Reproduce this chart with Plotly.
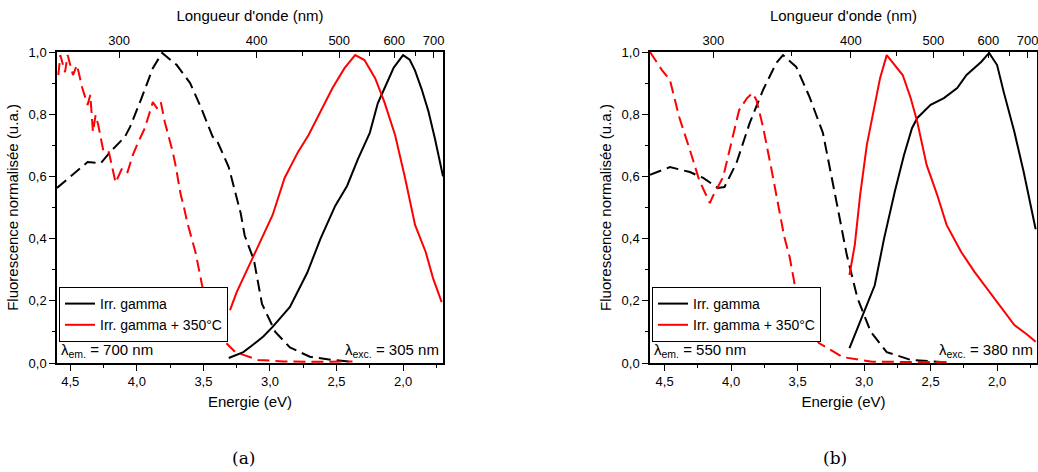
import plotly.graph_objects as go

# ---------------- data ----------------
# Panel (a)
a_exc_black_E = [4.60, 4.37, 4.27, 4.20, 4.09, 4.05, 3.97, 3.88, 3.81, 3.70, 3.60, 3.52, 3.43, 3.40, 3.31,
                 3.28, 3.22, 3.19, 3.12, 3.06, 2.96, 2.85, 2.70, 2.53, 2.37]
a_exc_black_v = [0.563, 0.646, 0.643, 0.679, 0.727, 0.76, 0.846, 0.948, 0.997, 0.958, 0.90, 0.823, 0.727, 0.717,
                 0.63, 0.579, 0.482, 0.41, 0.33, 0.19, 0.10, 0.05, 0.02, 0.01, 0.003]

a_exc_red_E = [4.59, 4.575, 4.54, 4.52, 4.48, 4.45, 4.41, 4.37, 4.35, 4.33, 4.31, 4.29, 4.25, 4.21, 4.16, 4.11,
               4.07, 4.03, 3.99, 3.94, 3.88, 3.85, 3.82, 3.79, 3.73, 3.71, 3.67, 3.65, 3.62, 3.56, 3.51, 3.46,
               3.39, 3.26, 3.09, 2.90, 2.64, 2.38]
a_exc_red_v = [0.926, 0.99, 0.935, 0.99, 0.926, 0.958, 0.884, 0.83, 0.862, 0.743, 0.797, 0.765, 0.678, 0.678,
               0.58, 0.627, 0.614, 0.669, 0.71, 0.755, 0.839, 0.82, 0.839, 0.775, 0.678, 0.637, 0.54, 0.508,
               0.45, 0.357, 0.25, 0.164, 0.09, 0.035, 0.01, 0.005, 0.004, 0.005]

a_em_black_E = [3.31, 3.20, 3.13, 3.05, 2.98, 2.85, 2.72, 2.62, 2.51, 2.42, 2.34, 2.25, 2.19, 2.12, 2.07, 2.00,
                1.95, 1.91, 1.86, 1.81, 1.76, 1.70]
a_em_black_v = [0.016, 0.035, 0.058, 0.085, 0.116, 0.18, 0.29, 0.40, 0.505, 0.57, 0.655, 0.74, 0.835, 0.90,
                0.95, 0.99, 0.975, 0.94, 0.88, 0.81, 0.72, 0.60]

a_em_red_E = [3.30, 3.25, 3.13, 3.04, 2.98, 2.89, 2.79, 2.71, 2.64, 2.53, 2.44, 2.36, 2.29, 2.21, 2.14, 2.06,
              1.985, 1.91, 1.83, 1.775, 1.71]
a_em_red_v = [0.17, 0.228, 0.338, 0.42, 0.476, 0.595, 0.678, 0.733, 0.79, 0.884, 0.948, 0.99, 0.974, 0.916,
              0.839, 0.733, 0.595, 0.444, 0.357, 0.273, 0.196]

# Panel (b)
b_exc_black_E = [4.61, 4.46, 4.31, 4.21, 4.10, 4.05, 3.96, 3.86, 3.76, 3.66, 3.61, 3.51, 3.41, 3.31, 3.22,
                 3.13, 3.05, 2.95, 2.83, 2.65, 2.42]
b_exc_black_v = [0.605, 0.63, 0.614, 0.595, 0.563, 0.566, 0.643, 0.772, 0.878, 0.965, 0.99, 0.952, 0.855, 0.74,
                 0.545, 0.347, 0.209, 0.10, 0.035, 0.01, 0.003]

b_exc_red_E = [4.61, 4.52, 4.46, 4.39, 4.31, 4.24, 4.16, 4.14, 4.06, 4.00, 3.94, 3.88, 3.84, 3.81, 3.76, 3.70,
               3.64, 3.60, 3.56, 3.51, 3.43, 3.34, 3.16, 2.94, 2.38]
b_exc_red_v = [1.0, 0.942, 0.91, 0.79, 0.685, 0.588, 0.514, 0.534, 0.598, 0.707, 0.813, 0.852, 0.868, 0.846,
               0.759, 0.63, 0.502, 0.405, 0.341, 0.225, 0.116, 0.064, 0.019, 0.004, 0.003]

b_em_black_E = [3.11, 3.00, 2.92, 2.85, 2.77, 2.70, 2.64, 2.60, 2.50, 2.40, 2.30, 2.23, 2.12, 2.06, 2.00, 1.95,
                1.87, 1.80, 1.71]
b_em_black_v = [0.048, 0.164, 0.25, 0.40, 0.55, 0.669, 0.755, 0.788, 0.83, 0.852, 0.884, 0.926, 0.968, 0.997,
                0.958, 0.871, 0.743, 0.614, 0.43]

b_em_red_E = [3.11, 3.07, 3.03, 2.98, 2.92, 2.88, 2.83, 2.77, 2.71, 2.65, 2.60, 2.53, 2.45, 2.38, 2.27, 2.17,
              2.08, 1.97, 1.87, 1.77, 1.71]
b_em_red_v = [0.283, 0.38, 0.54, 0.70, 0.83, 0.916, 0.99, 0.958, 0.926, 0.852, 0.775, 0.637, 0.54, 0.444,
              0.357, 0.293, 0.241, 0.177, 0.122, 0.09, 0.068]

series_names = ["Irr. gamma", "Irr. gamma + 350°C"]
wl_major = [300, 400, 500, 600, 700]
wl_minor = [350, 450, 550, 650]
energy_ticks = [4.5, 4.0, 3.5, 3.0, 2.5, 2.0]
em_labels = ["700 nm", "550 nm"]
exc_labels = ["305 nm", "380 nm"]
captions = ["(a)", "(b)"]

HC = 1239.84  # eV*nm
FONT = "Liberation Sans, Arial, sans-serif"
BLACK = "#000000"
RED = "#ff0000"
DASH = "12px,6px"

W, H = 1038, 472
xdom = [[57 / W, 443 / W], [650 / W, 1037 / W]]
ydom = [1 - 363 / H, 1 - 52 / H]
xr = [[4.6, 1.7], [4.61, 1.70]]

fig = go.Figure()

panels = [
    (a_exc_black_E, a_exc_black_v, a_exc_red_E, a_exc_red_v, a_em_black_E, a_em_black_v, a_em_red_E, a_em_red_v),
    (b_exc_black_E, b_exc_black_v, b_exc_red_E, b_exc_red_v, b_em_black_E, b_em_black_v, b_em_red_E, b_em_red_v),
]
for i, p in enumerate(panels):
    xa = "x" if i == 0 else "x2"
    ya = "y" if i == 0 else "y2"
    xt = "x3" if i == 0 else "x4"
    lg = "legend" if i == 0 else "legend2"
    fig.add_trace(go.Scatter(x=p[0], y=p[1], mode="lines", line=dict(color=BLACK, width=2, dash=DASH),
                             xaxis=xa, yaxis=ya, showlegend=False, legend=lg))
    fig.add_trace(go.Scatter(x=p[2], y=p[3], mode="lines", line=dict(color=RED, width=2, dash=DASH),
                             xaxis=xa, yaxis=ya, showlegend=False, legend=lg))
    fig.add_trace(go.Scatter(x=p[4], y=p[5], mode="lines", line=dict(color=BLACK, width=2),
                             xaxis=xa, yaxis=ya, name=series_names[0], legend=lg))
    fig.add_trace(go.Scatter(x=p[6], y=p[7], mode="lines", line=dict(color=RED, width=2),
                             xaxis=xa, yaxis=ya, name=series_names[1], legend=lg))
    # invisible carrier so that the top (wavelength) axis is drawn
    fig.add_trace(go.Scatter(x=xr[i], y=[None, None], mode="lines", xaxis=xt, yaxis=ya,
                             showlegend=False, hoverinfo="skip", line=dict(width=0)))

tickfont = dict(family=FONT, size=13, color="black")
titlefont = dict(family=FONT, size=15, color="black")

layout = dict(
    width=W, height=H,
    margin=dict(l=0, r=0, t=0, b=0),
    paper_bgcolor="white", plot_bgcolor="white",
    separators=", ",
    font=dict(family=FONT, color="black"),
)

for i in range(2):
    sfx = "" if i == 0 else "2"
    top = "3" if i == 0 else "4"
    layout["xaxis" + sfx] = dict(
        domain=xdom[i], range=xr[i], anchor="y" + sfx, automargin=False,
        showline=True, linecolor="black", linewidth=1.5, mirror=False,
        ticks="outside", ticklen=6, tickwidth=1.2, tickcolor="black",
        tickmode="array", tickvals=energy_ticks, tickformat=".1f",
        minor=dict(dtick=0.25, tick0=0, ticks="outside", ticklen=3, tickwidth=1.2, tickcolor="black"),
        showgrid=False, zeroline=False, tickfont=tickfont, ticklabeloverflow="allow",
        title=dict(text="Energie (eV)", font=titlefont, standoff=8),
    )
    layout["yaxis" + sfx] = dict(
        domain=ydom, range=[0, 1], anchor="x" + sfx, automargin=False,
        showline=True, linecolor="black", linewidth=1.5, mirror=True,
        ticks="outside", ticklen=6, tickwidth=1.2, tickcolor="black",
        dtick=0.2, tick0=0, tickformat=".1f",
        minor=dict(dtick=0.1, ticks="outside", ticklen=3, tickwidth=1.2, tickcolor="black"),
        showgrid=False, zeroline=False, tickfont=tickfont,
        title=dict(text="Fluorescence normalisée (u.a.)", font=titlefont, standoff=6),
    )
    layout["xaxis" + top] = dict(
        overlaying="x" + sfx, anchor="y" + sfx, side="top", range=xr[i], automargin=False,
        showline=True, linecolor="black", linewidth=1.5,
        ticks="inside", ticklen=6, tickwidth=1.2, tickcolor="black",
        tickmode="array", tickvals=[HC / w for w in wl_major], ticktext=[str(w) for w in wl_major],
        minor=dict(tickvals=[HC / w for w in wl_minor], ticks="inside", ticklen=4, tickwidth=1.2,
                   tickcolor="black"),
        showgrid=False, zeroline=False, tickfont=tickfont, ticklabeloverflow="allow",
        title=dict(text="Longueur d'onde (nm)", font=titlefont, standoff=8),
    )

legend_common = dict(
    bgcolor="white", bordercolor="black", borderwidth=1,
    font=dict(family=FONT, size=14, color="black"),
    xanchor="left", yanchor="top", tracegroupgap=0, itemwidth=30,
)
layout["legend"] = dict(legend_common, x=59 / W, y=1 - 287 / H)
layout["legend2"] = dict(legend_common, x=652 / W, y=1 - 287 / H)

annotations = []
em_x = [59 / W, 652 / W]
exc_x = [441 / W, 1035 / W]
for i in range(2):
    annotations.append(dict(xref="paper", yref="paper", x=em_x[i], y=1 - 350 / H, xanchor="left",
                            yanchor="middle", showarrow=False,
                            text="λ<sub>em.</sub> = " + em_labels[i],
                            font=dict(family=FONT, size=15, color="black")))
    annotations.append(dict(xref="paper", yref="paper", x=exc_x[i], y=1 - 350 / H, xanchor="right",
                            yanchor="middle", showarrow=False,
                            text="λ<sub>exc.</sub> = " + exc_labels[i],
                            font=dict(family=FONT, size=15, color="black")))
cap_x = [243 / W, 835 / W]
for i in range(2):
    annotations.append(dict(xref="paper", yref="paper", x=cap_x[i], y=1 - 458 / H, xanchor="center",
                            yanchor="middle", showarrow=False, text=captions[i],
                            font=dict(family="DejaVu Serif, Liberation Serif, serif", size=17,
                                      color="black")))
layout["annotations"] = annotations

fig.update_layout(**layout)
fig.write_html("out.html", config={"displayModeBar": False},
               post_script="document.body.style.margin='0';document.body.style.overflow='hidden';")
